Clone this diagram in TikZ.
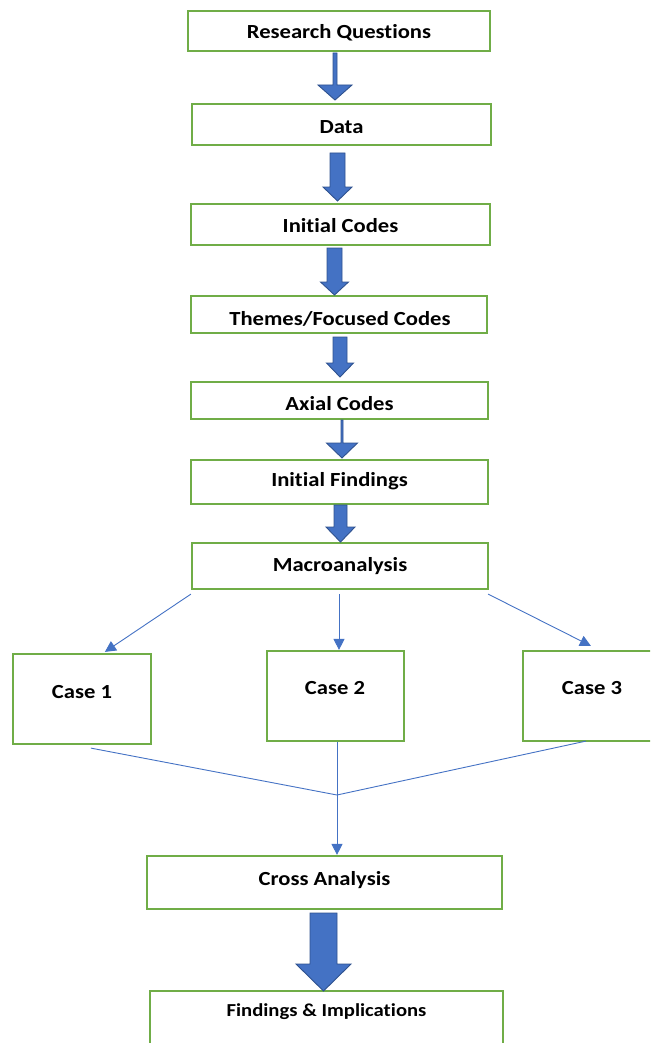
\documentclass[tikz,border=0pt]{standalone}
\usepackage{fontspec}
\newfontfamily\cf[FakeStretch=1.13,Ligatures=NoCommon]{Carlito}
\usetikzlibrary{arrows.meta,calc}
\definecolor{boxgreen}{HTML}{70AD47}
\definecolor{arrblue}{HTML}{4472C4}
\definecolor{arredge}{HTML}{2F528F}
\tikzset{
  box/.style={draw=boxgreen, line width=2.2pt, fill=white, inner sep=0pt, anchor=center},
  txt/.style={font=\cf\bfseries\fontsize{20}{24}\selectfont, inner sep=0pt, text=black},
  thin/.style={draw=arrblue, line width=0.9pt},
  thinarr/.style={thin, -{Triangle[length=11pt,width=11pt]}},
  blockarr/.style={fill=arrblue, draw=arredge, line width=0.9pt, line join=miter}
}
% \blockarrow{x}{ytop}{ybase}{ytip}{shaft half}{head half}
\newcommand\blockarrow[6]{%
  \path[blockarr] (#1-#5,#2) -- (#1+#5,#2) -- (#1+#5,#3) -- (#1+#6,#3) -- (#1,#4)
    -- (#1-#6,#3) -- (#1-#5,#3) -- cycle;}
\begin{document}
\begin{tikzpicture}[x=1pt,y=-1pt]
\useasboundingbox (0,0) rectangle (650,1043);
\clip (0,0) rectangle (650,1043);
% boxes
\node[box, minimum width=302, minimum height=40] (rq) at (339,31) {};
\node[txt] (rqt) at (339,33) {Research Questions};
\node[box, minimum width=299, minimum height=41] (da) at (341.5,124.5) {};
\node[txt] (dat) at (341.5,127) {Data};
\node[box, minimum width=299, minimum height=41] (ic) at (340.5,224.5) {};
\node[txt] (ict) at (340.5,226) {Initial Codes};
\node[box, minimum width=296, minimum height=37] (th) at (339,314.5) {};
\node[txt] (tht) at (340,319) {Themes/Focused Codes};
\node[box, minimum width=297, minimum height=37] (ax) at (339.5,400.5) {};
\node[txt] (axt) at (339.5,404) {Axial Codes};
\node[box, minimum width=297, minimum height=44] (if) at (339.5,482) {};
\node[txt] (ift) at (339.5,481) {Initial Findings};
\node[box, minimum width=296, minimum height=46] (ma) at (340,566) {};
\node[txt] (mat) at (340,566) {Macroanalysis};
\node[box, minimum width=138, minimum height=90] (c1) at (82,699) {};
\node[txt] (c1t) at (82,692) {Case 1};
\node[box, minimum width=137, minimum height=90] (c2) at (335.5,696) {};
\node[txt] (c2t) at (335,688) {Case 2};
\node[box, minimum width=138, minimum height=90] (c3) at (592,696) {};
\node[txt] (c3t) at (592,688) {Case 3};
\node[box, minimum width=355, minimum height=53] (cr) at (324.5,882.5) {};
\node[txt] (crt) at (324.5,880) {Cross Analysis};
\node[box, minimum width=353, minimum height=80] (fi) at (326.5,1031) {};
\node[txt, font=\cf\bfseries\fontsize{18.3}{22}\selectfont] (fit) at (326.5,1012) {Findings \& Implications};
% block arrows
\blockarrow{335}{53}{85}{100}{2}{17}
\blockarrow{337.5}{153}{187}{201}{7.5}{14.5}
\blockarrow{334.5}{248}{282}{295}{7.5}{14}
\blockarrow{340}{337}{363}{377}{7}{13.5}
\blockarrow{342}{420}{443}{458}{1}{15.5}
\blockarrow{340.5}{505}{527}{542}{6.5}{14.5}
\blockarrow{323.5}{913}{964}{991}{13.5}{27.5}
% thin connectors
\coordinate (m1) at ($(ma.south west)+(0,4)$);
\coordinate (m2) at ($(ma.south)+(-1,4)$);
\coordinate (m3) at ($(ma.south east)+(-1,4)$);
\draw[thinarr] (m1) -- ($(c1.north west)+(93,-1)$);
\draw[thinarr] (m2) -- (m2 |- c2.north);
\draw[thinarr] (m3) -- ($(c3.north west)+(69,-4)$);
\coordinate (j) at (337,795);
\draw[thin] ($(c1.south west)+(79,3)$) -- (j);
\draw[thin] ($(c3.south west)+(64,-1)$) -- (j);
\draw[thin] (c2.south -| j) -- (j);
\draw[thinarr] (j) -- (j |- cr.north);
\end{tikzpicture}
\end{document}
